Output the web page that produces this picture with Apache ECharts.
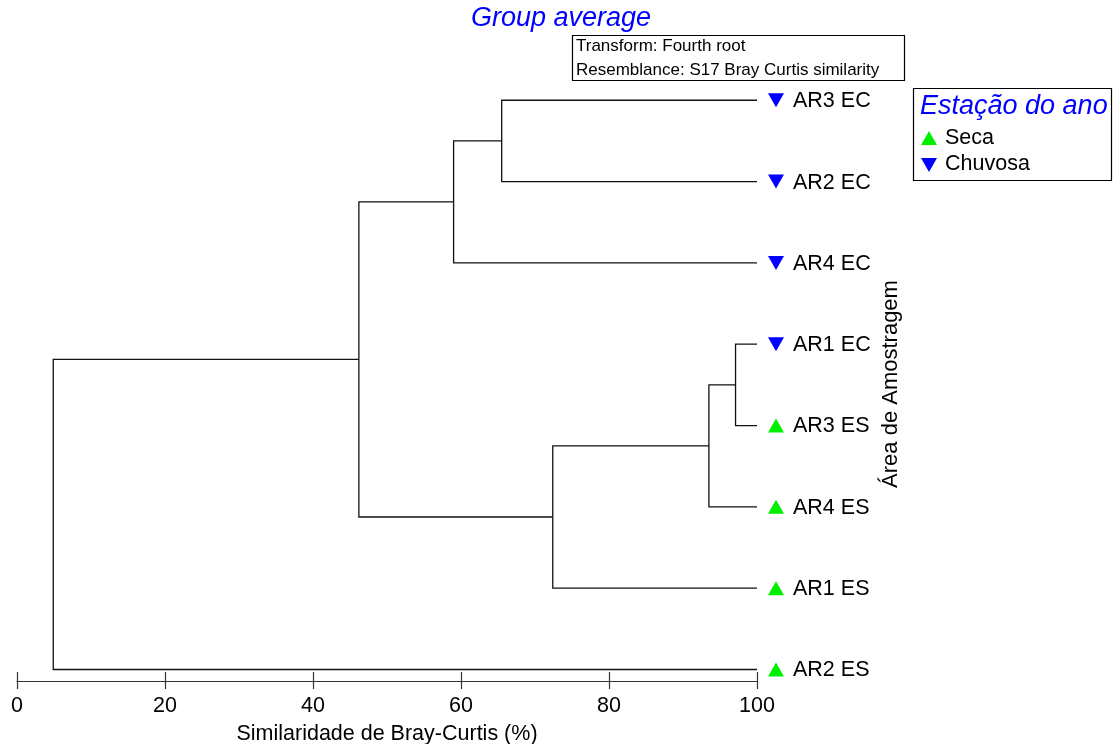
<!DOCTYPE html>
<html><head><meta charset="utf-8">
<script src="https://cdn.jsdelivr.net/npm/echarts@6/dist/echarts.min.js"></script>
<style>html,body{margin:0;padding:0;background:#fff}#c{width:1113px;height:744px}</style>
</head><body><div id="c"></div>
<script>
// ---- data ----
var leaves = ['AR3 EC','AR2 EC','AR4 EC','AR1 EC','AR3 ES','AR4 ES','AR1 ES','AR2 ES'];
var season = ['Chuvosa','Chuvosa','Chuvosa','Chuvosa','Seca','Seca','Seca','Seca'];
// merges: [childA, childB, similarity]; leaves are 0..7, new nodes numbered from 8
var mergeA = [0, 8, 3, 10, 11, 9, 13];
var mergeB = [1, 2, 4, 5, 6, 12, 7];
var mergeH = [65.5, 59.0, 97.1, 93.5, 72.4, 46.2, 4.9];
var xTicks = [0, 20, 40, 60, 80, 100];
var seasonNames = ['Seca', 'Chuvosa'];

// ---- build node positions ----
var nodeY = [], nodeX = [];
for (var i = 0; i < leaves.length; i++) { nodeY.push(i); nodeX.push(100); }
var segs = [];
for (var k = 0; k < mergeH.length; k++) {
  var a = mergeA[k], b = mergeB[k];
  segs.push([mergeH[k], nodeY[a], nodeY[b], nodeX[a], nodeX[b]]);
  nodeY.push((nodeY[a] + nodeY[b]) / 2);
  nodeX.push(mergeH[k]);
}
var FONT = '"Liberation Sans", Arial, sans-serif';
var colors = { 'Seca': '#00f000', 'Chuvosa': '#0000ff' };

function leafData(name) {
  var out = [];
  for (var i = 0; i < leaves.length; i++) if (season[i] === name) out.push([100, i, leaves[i]]);
  return out;
}

var chart = echarts.init(document.getElementById('c'), null, { renderer: 'canvas' });
var lineColor = '#111';
chart.setOption({
  animation: false,
  backgroundColor: '#fff',
  grid: { left: 17, right: 1113 - 757, top: 84, bottom: 63, containLabel: false, outerBoundsMode: 'none' },
  xAxis: [{
    type: 'value', min: 0, max: 100, interval: 20, position: 'bottom',
    data: xTicks,
    axisLine: { show: true, onZero: false, lineStyle: { color: '#333', width: 1.2 } },
    axisTick: { show: true, length: 8, lineStyle: { color: '#333', width: 1.2 } },
    axisLabel: { fontSize: 21.5, color: '#000', fontFamily: FONT, margin: 14 },
    splitLine: { show: false },
    name: 'Similaridade de Bray-Curtis (%)', nameLocation: 'middle', nameGap: 42,
    nameTextStyle: { fontSize: 21.5, color: '#000', fontFamily: FONT }
  }, {
    type: 'value', min: 0, max: 100, interval: 20, position: 'bottom',
    axisLine: { show: false, onZero: false },
    axisTick: { show: true, inside: true, length: 9, lineStyle: { color: '#333', width: 1.2 } },
    axisLabel: { show: false }, splitLine: { show: false }
  }],
  yAxis: {
    type: 'value', min: -0.2, max: 7.1415, inverse: true, position: 'right', offset: 0,
    axisLine: { show: false }, axisTick: { show: false }, axisLabel: { show: false },
    splitLine: { show: false }
  },
  series: [{
    type: 'custom',
    data: segs,
    clip: false,
    renderItem: function (params, api) {
      var h = api.value(0), y1 = api.value(1), y2 = api.value(2), x1 = api.value(3), x2 = api.value(4);
      var p1 = api.coord([x1, y1]), p2 = api.coord([h, y1]), p3 = api.coord([h, y2]), p4 = api.coord([x2, y2]);
      return {
        type: 'polyline',
        shape: { points: [p1, p2, p3, p4] },
        style: { stroke: lineColor, lineWidth: 1.3, fill: null }
      };
    }
  }].concat(seasonNames.map(function (s) {
    return {
      type: 'scatter', name: s, data: leafData(s), clip: false,
      symbol: 'triangle', symbolSize: [16, 14], symbolRotate: s === 'Chuvosa' ? 180 : 0,
      symbolOffset: [19, 0],
      itemStyle: { color: colors[s], opacity: 1 },
      emphasis: { disabled: true },
      label: {
        show: true, position: 'right', distance: 9, offset: [0, 1],
        formatter: function (p) { return p.value[2]; },
        fontSize: 21.5, color: '#000', opacity: 1, fontFamily: FONT
      }
    };
  })),
  graphic: [
    { type: 'text', x: 471, y: 18, style: { text: 'Group average', fill: '#0000ff', font: 'italic 27px ' + FONT, verticalAlign: 'middle' } },
    { type: 'rect', shape: { x: 572.5, y: 35.5, width: 332, height: 45 }, style: { fill: '#fff', stroke: '#000', lineWidth: 1.2 } },
    { type: 'text', x: 576, y: 46.5, style: { text: 'Transform: Fourth root', fill: '#000', font: '17px ' + FONT, verticalAlign: 'middle' } },
    { type: 'text', x: 576, y: 70, style: { text: 'Resemblance: S17 Bray Curtis similarity', fill: '#000', font: '17px ' + FONT, verticalAlign: 'middle' } },
    { type: 'rect', shape: { x: 913.5, y: 88.5, width: 198, height: 92 }, style: { fill: '#fff', stroke: '#000', lineWidth: 1.2 } },
    { type: 'text', x: 920, y: 106, style: { text: 'Estação do ano', fill: '#0000ff', font: 'italic 27px ' + FONT, verticalAlign: 'middle' } },
    { type: 'polygon', shape: { points: [[921, 145], [937, 145], [929, 131]] }, style: { fill: colors['Seca'] } },
    { type: 'text', x: 945, y: 138, style: { text: 'Seca', fill: '#000', font: '21.5px ' + FONT, verticalAlign: 'middle' } },
    { type: 'polygon', shape: { points: [[921, 158], [937, 158], [929, 172]] }, style: { fill: colors['Chuvosa'] } },
    { type: 'text', x: 945, y: 164, style: { text: 'Chuvosa', fill: '#000', font: '21.5px ' + FONT, verticalAlign: 'middle' } },
    { type: 'text', x: 891, y: 384, rotation: Math.PI / 2, style: { text: 'Área de Amostragem', fill: '#000', font: '22px ' + FONT, align: 'center', verticalAlign: 'middle' } }
  ]
});
</script></body></html>
